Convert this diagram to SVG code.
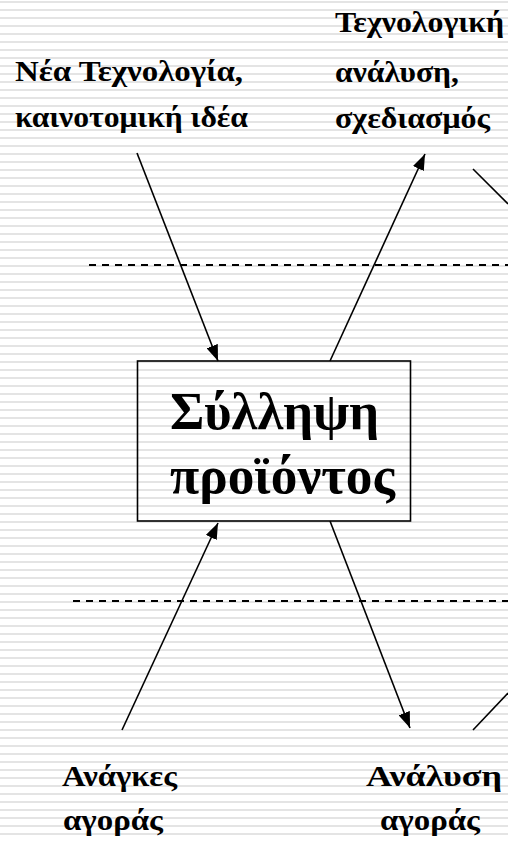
<svg xmlns="http://www.w3.org/2000/svg" width="508" height="841" viewBox="0 0 508 841">
<defs>
<pattern id="stripes" width="8" height="8" patternUnits="userSpaceOnUse">
<rect x="0" y="1" width="8" height="2" fill="#e4e4e4"/>
</pattern>
<marker id="ah" markerWidth="16" markerHeight="12" refX="16" refY="6" viewBox="0 0 16 12" markerUnits="userSpaceOnUse" orient="auto">
<path d="M0,0 L16,6 L0,12 Z" fill="#000"/>
</marker>
<style>
.lbl{font-family:"Liberation Serif","Times New Roman",serif;font-weight:bold;font-size:30px;fill:#000}
.big{font-family:"Liberation Serif","Times New Roman",serif;font-weight:bold;font-size:53px;fill:#000}
.conn{stroke:#000;stroke-width:1.6;fill:none}
.dash{stroke:#000;stroke-width:2;stroke-dasharray:7 6;fill:none}
</style>
</defs>
<rect width="508" height="841" fill="#fff"/>
<rect width="508" height="841" fill="url(#stripes)"/>
<g id="dividers">
<line class="dash" x1="89" y1="265" x2="508" y2="265"/>
<line class="dash" x1="73" y1="601" x2="508" y2="601"/>
</g>
<g id="connectors">
<line class="conn" x1="137" y1="153" x2="218" y2="361" marker-end="url(#ah)"/>
<line class="conn" x1="330" y1="361" x2="425" y2="154" marker-end="url(#ah)"/>
<line class="conn" x1="473" y1="169" x2="508" y2="204"/>
<line class="conn" x1="122" y1="730" x2="218" y2="523" marker-end="url(#ah)"/>
<line class="conn" x1="330" y1="521" x2="410" y2="728" marker-end="url(#ah)"/>
<line class="conn" x1="473" y1="730" x2="508" y2="693"/>
</g>
<g id="product-concept">
<rect x="137.5" y="361" width="273" height="160" fill="none" stroke="#000" stroke-width="1.6"/>
<text class="big" x="170" y="429" textLength="209" lengthAdjust="spacingAndGlyphs">Σύλληψη</text>
<text class="big" x="170" y="493" textLength="225" lengthAdjust="spacingAndGlyphs">προϊόντος</text>
</g>
<g id="new-technology">
<text class="lbl" x="15" y="81" textLength="228" lengthAdjust="spacingAndGlyphs">Νέα Τεχνολογία,</text>
<text class="lbl" x="15" y="127" textLength="233" lengthAdjust="spacingAndGlyphs">καινοτομική ιδέα</text>
</g>
<g id="tech-analysis">
<text class="lbl" x="335" y="32" textLength="169" lengthAdjust="spacingAndGlyphs">Τεχνολογική</text>
<text class="lbl" x="335" y="82" textLength="124" lengthAdjust="spacingAndGlyphs">ανάλυση,</text>
<text class="lbl" x="335" y="128" textLength="155" lengthAdjust="spacingAndGlyphs">σχεδιασμός</text>
</g>
<g id="market-needs">
<text class="lbl" x="62" y="786" textLength="115" lengthAdjust="spacingAndGlyphs">Ανάγκες</text>
<text class="lbl" x="63" y="830" textLength="100" lengthAdjust="spacingAndGlyphs">αγοράς</text>
</g>
<g id="market-analysis">
<text class="lbl" x="366" y="786" textLength="136" lengthAdjust="spacingAndGlyphs">Ανάλυση</text>
<text class="lbl" x="380" y="830" textLength="100" lengthAdjust="spacingAndGlyphs">αγοράς</text>
</g>
</svg>
